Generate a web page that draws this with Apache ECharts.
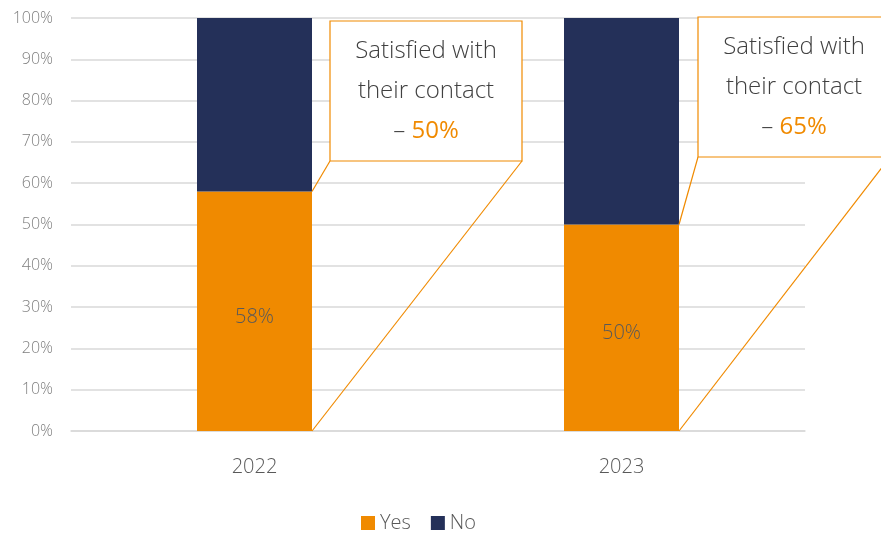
<!DOCTYPE html>
<html>
<head>
<meta charset="utf-8">
<script src="https://cdn.jsdelivr.net/npm/echarts@6/dist/echarts.min.js"></script>
<style>
  html, body { margin: 0; padding: 0; background: #fff; }
  #chart { width: 881px; height: 533px; }
</style>
</head>
<body>
<div id="chart"></div>
<script>
// Survey results: share of respondents who had contact, by year
const years = ['2022', '2023'];
const yesShare = [58, 50];
const noShare = [42, 50];
// Share satisfied with their contact, per year
const satisfiedShare = [50, 65];

const ORANGE = '#F08A00';
const NAVY = '#243059';
const FONT = '"Open Sans", "Segoe UI", sans-serif';
const LIGHT = 300;
const BAR_W = 115;

const chart = echarts.init(document.getElementById('chart'), null, { renderer: 'canvas' });

chart.setOption({
  animation: false,
  textStyle: { fontFamily: FONT },
  grid: { left: 71, right: 76, top: 18, bottom: 102, containLabel: false },
  legend: {
    top: 508,
    left: 356,
    icon: 'rect',
    itemWidth: 14,
    itemHeight: 14,
    itemGap: 20,
    textStyle: { color: '#595959', fontSize: 20, fontWeight: LIGHT, fontFamily: FONT },
    data: ['Yes', 'No']
  },
  xAxis: {
    type: 'category',
    data: years,
    axisLine: { lineStyle: { color: '#d9d9d9', width: 1.5 } },
    axisTick: { show: false },
    axisLabel: { color: '#595959', fontSize: 20, fontWeight: LIGHT, margin: 26, fontFamily: FONT }
  },
  yAxis: {
    type: 'value',
    min: 0,
    max: 100,
    interval: 10,
    axisLabel: { formatter: '{value}%', color: '#7f7f7f', fontSize: 16, fontWeight: LIGHT, margin: 18, fontFamily: FONT },
    splitLine: { lineStyle: { color: '#d9d9d9', width: 1.5 } },
    axisLine: { show: false },
    axisTick: { show: false }
  },
  series: [
    {
      name: 'Yes',
      type: 'bar',
      stack: 'total',
      barWidth: BAR_W,
      data: yesShare,
      itemStyle: { color: ORANGE },
      label: {
        show: true,
        position: 'inside',
        formatter: '{c}%',
        color: '#595959',
        fontSize: 20,
        fontWeight: LIGHT,
        fontFamily: FONT,
        offset: [0, 6]
      }
    },
    {
      name: 'No',
      type: 'bar',
      stack: 'total',
      barWidth: BAR_W,
      data: noShare,
      itemStyle: { color: NAVY }
    }
  ]
});

// Callout boxes linked to each bar: the box sits just right of the bar,
// joined to the top-right corner of the "Yes" segment and the bar's base.
const boxW = 192, boxH = 140;
const boxGap = [18, 19];
const boxTop = [21, 17];
const graphics = [];
years.forEach(function (yr, i) {
  const cx = chart.convertToPixel({ xAxisIndex: 0 }, yr);
  const right = cx + BAR_W / 2;
  const yesTop = chart.convertToPixel({ yAxisIndex: 0 }, yesShare[i]);
  const base = chart.convertToPixel({ yAxisIndex: 0 }, 0);
  const bx = right + boxGap[i];
  const by = boxTop[i];
  graphics.push({
    type: 'rect',
    shape: { x: bx, y: by, width: boxW, height: boxH },
    style: { fill: '#fff', stroke: ORANGE, lineWidth: 1.2 },
    z: 10
  });
  graphics.push({
    type: 'line',
    shape: { x1: right, y1: yesTop, x2: bx, y2: by + boxH },
    style: { stroke: ORANGE, lineWidth: 1.2 },
    z: 10
  });
  graphics.push({
    type: 'line',
    shape: { x1: right, y1: base, x2: bx + boxW, y2: by + boxH },
    style: { stroke: ORANGE, lineWidth: 1.2 },
    z: 10
  });
  graphics.push({
    type: 'text',
    x: bx + boxW / 2,
    y: by + boxH / 2,
    z: 11,
    style: {
      text: 'Satisfied with\ntheir contact\n{d|– }{v|' + satisfiedShare[i] + '%}',
      align: 'center',
      verticalAlign: 'middle',
      fill: '#404040',
      fontSize: 24,
      fontWeight: LIGHT,
      lineHeight: 40,
      fontFamily: FONT,
      rich: {
        d: { fill: '#404040', fontSize: 24, fontWeight: LIGHT, lineHeight: 40, fontFamily: FONT },
        v: { fill: ORANGE, fontSize: 24, fontWeight: 'normal', lineHeight: 40, fontFamily: FONT }
      }
    }
  });
});
chart.setOption({ graphic: graphics });
</script>
</body>
</html>
